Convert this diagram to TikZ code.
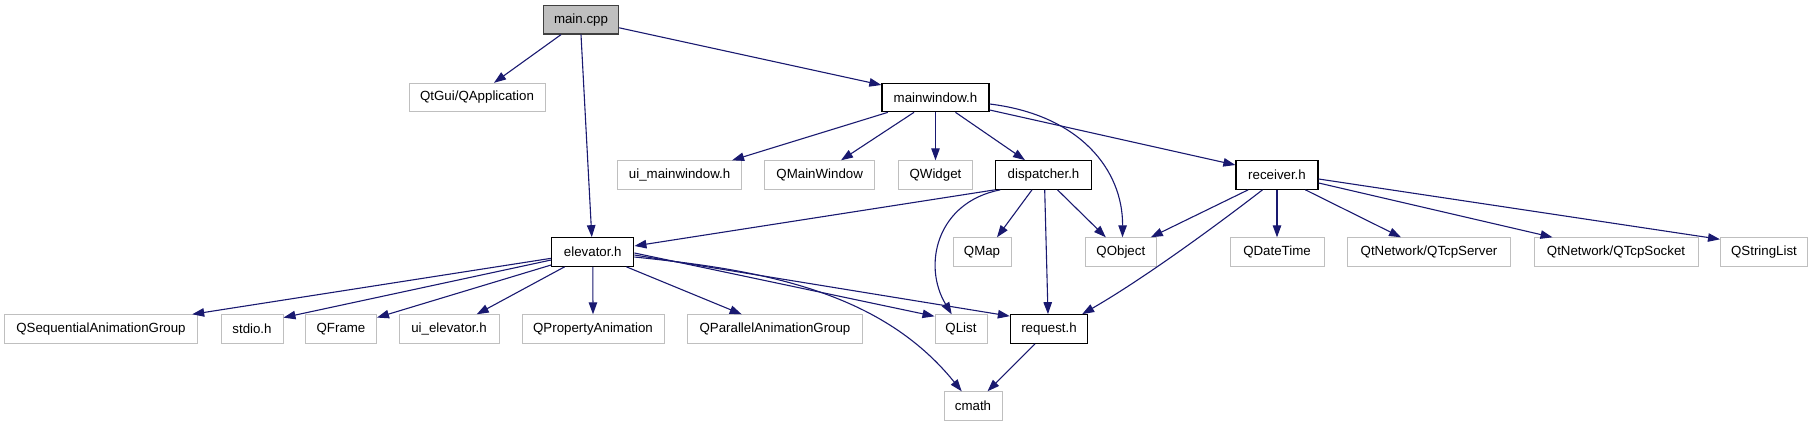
\documentclass[tikz,border=0pt]{standalone}
\usepackage{fontspec}
\setmainfont{Liberation Sans}
\usetikzlibrary{arrows.meta,calc}
\definecolor{edgeblue}{HTML}{191970}
\definecolor{boxgray}{HTML}{BFBFBF}
\definecolor{maindark}{HTML}{404040}
\begin{document}
\begin{tikzpicture}[x=1pt,y=-1pt,
  box/.style={draw=boxgray, line width=1pt, fill=white, minimum height=28.4pt, inner sep=0pt, text=black, font=\fontsize{13.3}{15}\selectfont},
  hdr/.style={box, draw=black, line width=1.3pt},
  mainbox/.style={box, draw=maindark, fill=boxgray, line width=1.3pt},
  dep/.style={draw=edgeblue, line width=1.1pt, -{Triangle[length=12pt,width=8.5pt]}, fill=none}]
\useasboundingbox (0,0) rectangle (1812,427);
% rank 0
\node[mainbox, minimum width=75pt] (main) at (581,19.8) {main.cpp};
% rank 1
\node[box, minimum width=136pt] (qtgui) at (477,97.5) {QtGui/QApplication};
\node[hdr, minimum width=107pt] (mainw) at (935.5,97.5) {mainwindow.h};
% rank 2
\node[box, minimum width=124pt] (uimw) at (679.6,175) {ui\_mainwindow.h};
\node[box, minimum width=110pt] (qmw) at (819.7,175) {QMainWindow};
\node[box, minimum width=74pt] (qwid) at (935.5,175) {QWidget};
\node[hdr, minimum width=96pt] (disp) at (1043.5,175) {dispatcher.h};
\node[hdr, minimum width=82pt] (recv) at (1277,175) {receiver.h};
% rank 3
\node[hdr, minimum width=82pt] (elev) at (592.8,252) {elevator.h};
\node[box, minimum width=58pt] (qmap) at (982,252) {QMap};
\node[box, minimum width=71pt] (qobj) at (1120.8,252) {QObject};
\node[box, minimum width=94pt] (qdt) at (1277,252) {QDateTime};
\node[box, minimum width=163pt] (tcps) at (1429,252) {QtNetwork/QTcpServer};
\node[box, minimum width=164pt] (tcpk) at (1616,252) {QtNetwork/QTcpSocket};
\node[box, minimum width=87pt] (qsl) at (1764,252) {QStringList};
% rank 4
\node[box, minimum width=193pt] (qseq) at (101,329) {QSequentialAnimationGroup};
\node[box, minimum width=62pt] (stdio) at (252,329) {stdio.h};
\node[box, minimum width=71pt] (qframe) at (341,329) {QFrame};
\node[box, minimum width=100pt] (uiel) at (449,329) {ui\_elevator.h};
\node[box, minimum width=142pt] (qprop) at (593,329) {QPropertyAnimation};
\node[box, minimum width=175pt] (qpar) at (775,329) {QParallelAnimationGroup};
\node[box, minimum width=52pt] (qlist) at (961,329) {QList};
\node[hdr, minimum width=77pt] (req) at (1049,329) {request.h};
% rank 5
\node[box, minimum width=58pt] (cmath) at (973,406) {cmath};

% edges from main.cpp
\draw[dep] ([xshift=-20pt]main.south) -- ([xshift=17pt]qtgui.north);
\draw[dep] (main.south) -- ([xshift=-1pt]elev.north);
\draw[dep] ([yshift=-8pt]main.east) -- ([yshift=12.5pt]mainw.west);
% edges from mainwindow.h
\draw[dep] ([xshift=6.5pt]mainw.south west) -- ([xshift=-10pt]uimw.north east);
\draw[dep] ([xshift=-21.5pt]mainw.south) -- ([xshift=21.3pt]qmw.north);
\draw[dep] (mainw.south) -- (qwid.north);
\draw[dep] ([xshift=20pt]mainw.south) -- ([xshift=-18.5pt]disp.north);
\draw[dep] ([yshift=-6.5pt]mainw.east) .. controls (1080,115) and (1123,170) .. ([xshift=1.7pt]qobj.north);
\draw[dep] ([yshift=-12.5pt]mainw.east) -- ([yshift=10pt]recv.west);
% edges from dispatcher.h
\draw[dep] (disp.south west) -- ([yshift=6pt]elev.east);
\draw[dep] ([xshift=-11.5pt]disp.south) -- ([xshift=15pt]qmap.north);
\draw[dep] ([xshift=14pt]disp.south) -- ([xshift=-15pt]qobj.north);
\draw[dep] ([xshift=5.5pt]disp.south west) .. controls (937,202) and (922,265) .. ([xshift=-9.3pt]qlist.north);
\draw[dep] ([xshift=1.2pt]disp.south) -- ([xshift=-1pt]req.north);
% edges from receiver.h
\draw[dep] ([xshift=12.8pt]recv.south west) -- ([xshift=-6pt]qobj.north east);
\draw[dep] ([xshift=-14.5pt]recv.south) .. controls (1230,215) and (1150,275) .. ([xshift=-6pt]req.north east);
\draw[dep] (recv.south) -- (qdt.north);
\draw[dep] ([xshift=28.4pt]recv.south) -- ([xshift=-28pt]tcps.north);
\draw[dep] ([yshift=-8pt]recv.east) -- ([xshift=19pt]tcpk.north west);
\draw[dep] ([yshift=-4pt]recv.east) -- ([yshift=-2pt]qsl.north west);
% edges from elevator.h
\draw[dep] ([yshift=-6.3pt]elev.west) -- ([xshift=-5.8pt]qseq.north east);
\draw[dep] ([yshift=-8pt]elev.west) -- ([yshift=-3.3pt]stdio.north east);
\draw[dep] ([yshift=-13pt]elev.west) -- ([yshift=-3.3pt]qframe.north east);
\draw[dep] ([xshift=13.4pt]elev.south west) -- ([xshift=27.7pt]uiel.north);
\draw[dep] (elev.south) -- (qprop.north);
\draw[dep] ([xshift=-8pt]elev.south east) -- ([xshift=-33.3pt]qpar.north);
\draw[dep] ([yshift=-1pt]elev.east) -- ([yshift=-2pt]qlist.north west);
\draw[dep] ([yshift=-3pt]elev.east) -- ([yshift=-2pt]req.north west);
\draw[dep] ([yshift=-5pt]elev.east) .. controls (760,270) and (880,290) .. ([xshift=-11.3pt]cmath.north);
% edge from request.h
\draw[dep] ([xshift=-14pt]req.south) -- ([xshift=14.5pt]cmath.north);
\end{tikzpicture}
\end{document}
